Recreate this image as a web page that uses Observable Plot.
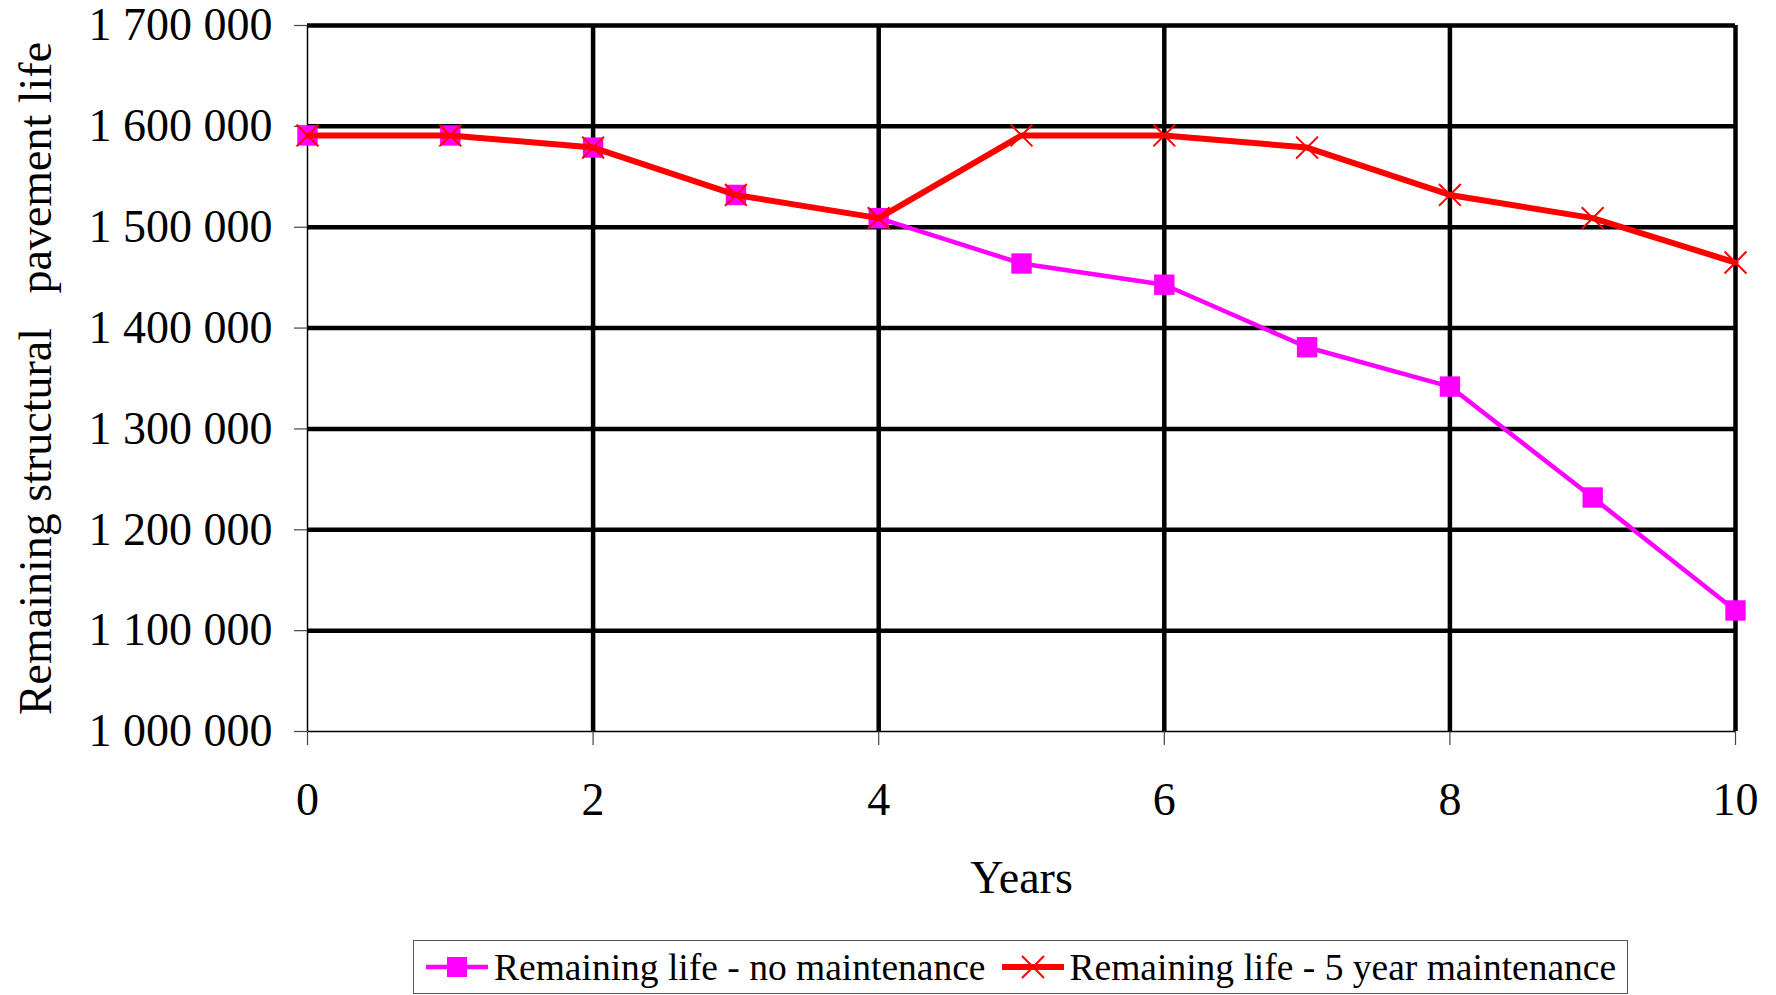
<!DOCTYPE html>
<html>
<head>
<meta charset="utf-8">
<script src="https://cdn.jsdelivr.net/npm/d3@7"></script>
<script src="https://cdn.jsdelivr.net/npm/@observablehq/plot@0.6"></script>
<style>
  html, body { margin: 0; padding: 0; background: white; }
  body { width: 1776px; height: 995px; position: relative; overflow: hidden; font-family: "Liberation Serif", "Times New Roman", serif; }
  #legend {
    position: absolute; left: 413px; top: 940px; width: 1213px; height: 52px;
    border: 1.5px solid #555; display: flex; align-items: center;
    font-size: 37.5px; color: black; box-sizing: content-box; white-space: nowrap;
  }
  #legend .item { display: flex; align-items: center; white-space: nowrap; }
  #legend svg { display: block; }
</style>
</head>
<body>
<div id="chart"></div>
<div id="legend"></div>
<script>
const years = [0, 1, 2, 3, 4, 5, 6, 7, 8, 9, 10];
const noMaintenance = [1591000, 1591000, 1579000, 1532000, 1509000, 1464000, 1443000, 1381000, 1342000, 1232000, 1120000];
const fiveYearMaintenance = [1591000, 1591000, 1579000, 1532000, 1509000, 1591000, 1591000, 1579000, 1532000, 1509000, 1465000];
const yTicks = [1000000, 1100000, 1200000, 1300000, 1400000, 1500000, 1600000, 1700000];
const xTicks = [0, 2, 4, 6, 8, 10];
const seriesNames = ["Remaining life - no maintenance", "Remaining life - 5 year maintenance"];
const seriesColors = ["#ff00ff", "#ff0000"];
const xTitle = "Years";
const yTitle = "Remaining structural \u2002pavement life";

const fmt = d3.formatLocale({decimal: ".", thousands: " ", grouping: [3], currency: ["", ""]}).format(",");

const dataA = years.map((x, i) => ({x, y: noMaintenance[i]}));
const dataB = years.map((x, i) => ({x, y: fiveYearMaintenance[i]}));

const chart = Plot.plot({
  width: 1776,
  height: 940,
  marginLeft: 307,
  marginRight: 41,
  marginTop: 25,
  marginBottom: 209,
  x: {domain: [0, 10]},
  y: {domain: [1000000, 1700000]},
  style: {fontFamily: "Liberation Serif", fontSize: "46px", color: "black", background: "white"},
  marks: [
    Plot.gridY(yTicks.filter(d => d > 1000000), {stroke: "black", strokeOpacity: 1, strokeWidth: 4.5}),
    Plot.gridX(xTicks.filter(d => d > 0), {stroke: "black", strokeOpacity: 1, strokeWidth: 4.5}),
    Plot.ruleY([1000000], {stroke: "black", strokeWidth: 1.5}),
    Plot.ruleX([0], {stroke: "black", strokeWidth: 1.5}),
    Plot.axisY(yTicks, {tickSize: 13, tickPadding: 22, tickFormat: fmt, stroke: "#444", strokeWidth: 1.2, label: null}),
    Plot.axisX(xTicks, {tickSize: 14, tickPadding: 37, tickFormat: d => String(d), stroke: "#444", strokeWidth: 1.2, label: null}),
    Plot.line(dataA, {x: "x", y: "y", stroke: seriesColors[0], strokeWidth: 4.5}),
    Plot.dot(dataA, {x: "x", y: "y", symbol: "square", r: 11.5, fill: seriesColors[0], stroke: "none"}),
    Plot.line(dataB, {x: "x", y: "y", stroke: seriesColors[1], strokeWidth: 6}),
    Plot.dot(dataB, {x: "x", y: "y", symbol: "times", r: 10, stroke: seriesColors[1], strokeWidth: 2}),
    Plot.text([xTitle], {frameAnchor: "bottom", dy: 147, lineAnchor: "middle", fontSize: 46, fill: "black"}),
    Plot.text([yTitle], {frameAnchor: "left", dx: -271, rotate: -90, textAnchor: "middle", lineAnchor: "middle", fontSize: 46, fill: "black"})
  ]
});
document.getElementById("chart").appendChild(chart);

// Legend
const legend = document.getElementById("legend");
function swatch(kind, color) {
  const ns = "http://www.w3.org/2000/svg";
  const svg = document.createElementNS(ns, "svg");
  svg.setAttribute("width", 62); svg.setAttribute("height", 40);
  const line = document.createElementNS(ns, "line");
  line.setAttribute("x1", 0); line.setAttribute("x2", 62);
  line.setAttribute("y1", 20); line.setAttribute("y2", 20);
  line.setAttribute("stroke", color);
  line.setAttribute("stroke-width", kind === "square" ? 4.5 : 6);
  svg.appendChild(line);
  if (kind === "square") {
    const r = document.createElementNS(ns, "rect");
    r.setAttribute("x", 21); r.setAttribute("y", 10); r.setAttribute("width", 20); r.setAttribute("height", 20);
    r.setAttribute("fill", color);
    svg.appendChild(r);
  } else {
    const p = document.createElementNS(ns, "path");
    p.setAttribute("d", "M20,9L42,31M42,9L20,31");
    p.setAttribute("stroke", color); p.setAttribute("stroke-width", 2); p.setAttribute("fill", "none");
    svg.appendChild(p);
  }
  return svg;
}
const kinds = ["square", "times"];
seriesNames.forEach((name, i) => {
  const item = document.createElement("div");
  item.className = "item";
  item.style.marginLeft = i === 0 ? "12px" : "16px";
  item.appendChild(swatch(kinds[i], seriesColors[i]));
  const t = document.createElement("span");
  t.textContent = name;
  t.style.marginLeft = "6px";
  item.appendChild(t);
  legend.appendChild(item);
});
</script>
</body>
</html>
